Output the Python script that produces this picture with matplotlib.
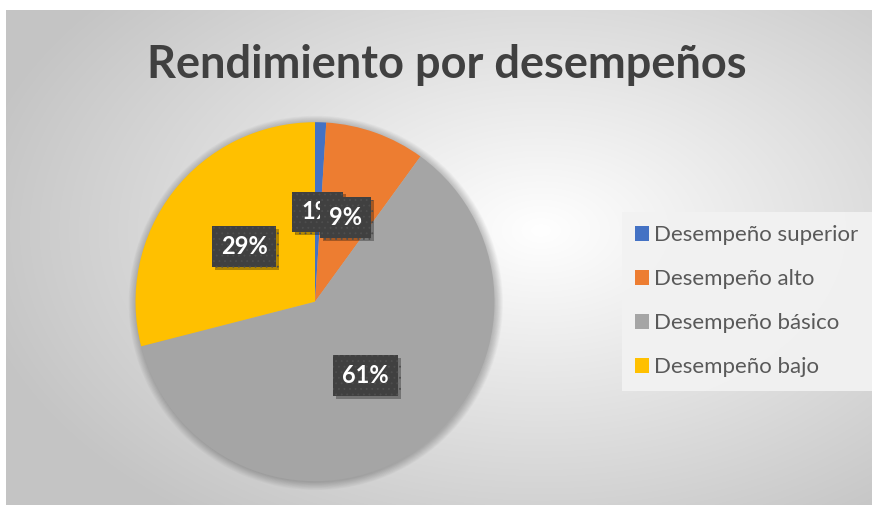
import numpy as np
import matplotlib
matplotlib.use('Agg')
import matplotlib.pyplot as plt
import matplotlib.patches as mpatches
import matplotlib.patheffects as pe

# datos
categorias = ['Desempeño superior', 'Desempeño alto', 'Desempeño básico', 'Desempeño bajo']
valores = [1, 9, 61, 29]
colores = ['#4472C4', '#ED7D31', '#A5A5A5', '#FFC000']
titulo = 'Rendimiento por desempeños'

plt.rcParams['hatch.linewidth'] = 0.6

W, H = 872, 505
fig = plt.figure(figsize=(W / 100, H / 100), dpi=100)
fig.patch.set_facecolor('white')

# fondo con degradado radial
bg = fig.add_axes([6 / W, 0, 1 - 6 / W, (H - 10) / H])
bg.set_axis_off()
xx, yy = np.meshgrid(np.arange(6, W), np.arange(10, H))
d = np.sqrt(((xx - 540) / 480.0) ** 2 + ((yy - 230) / 300.0) ** 2)
d = np.clip(d / 1.2, 0, 1)
gris = 1.0 - 0.23 * d
img = np.dstack([gris, gris, gris])
bg.imshow(img, aspect='auto', interpolation='bilinear')

# pie
cx, cy, R = 315, 301.7, 179.5
half = 200
ax = fig.add_axes([(cx - half) / W, (H - cy - half) / H, 2 * half / W, 2 * half / H])
r = R / half

# sombra suave del circulo
for i in range(12):
    ax.add_patch(mpatches.Circle((0.004, -0.006), r + i * 0.0035, color='black',
                                 alpha=0.018, lw=0, zorder=0))

wedges, texts, autotexts = ax.pie(
    valores, colors=colores, startangle=90, counterclock=False, radius=r,
    autopct='%1.0f%%', pctdistance=0.5,
    textprops=dict(color='white', fontsize=17, fontweight='bold', family='Lato'),
    wedgeprops=dict(linewidth=0))
ax.set_xlim(-1, 1)
ax.set_ylim(-1, 1)
ax.set_axis_off()

for t in autotexts:
    t.set_bbox(dict(boxstyle='square,pad=0.38', fc='#404040', ec='#4e4e4e', lw=0, hatch='...'))
    t.get_bbox_patch().set_path_effects([
        pe.SimplePatchShadow(offset=(2, -2), shadow_rgbFace='black', alpha=0.3),
        pe.Normal()])

# titulo
fig.text(447 / W, 1 - 78 / H, titulo, ha='center', va='baseline',
         fontsize=32.5, fontweight='bold', color='#404040', family='Lato')

# leyenda
handles = [mpatches.Patch(facecolor=c, edgecolor='none') for c in colores]
leg = fig.legend(handles, categorias, loc='upper left',
                 bbox_to_anchor=(622 / W, 1 - 212 / H),
                 prop=dict(family='Lato', size=16),
                 labelcolor='#595959', frameon=True, fancybox=False,
                 facecolor='#f2f2f2', edgecolor='none', framealpha=0.95,
                 borderpad=0.6, labelspacing=1.08, handlelength=0.6,
                 handleheight=0.6, handletextpad=0.25, borderaxespad=0)

fig.savefig('out.png', dpi=100)
